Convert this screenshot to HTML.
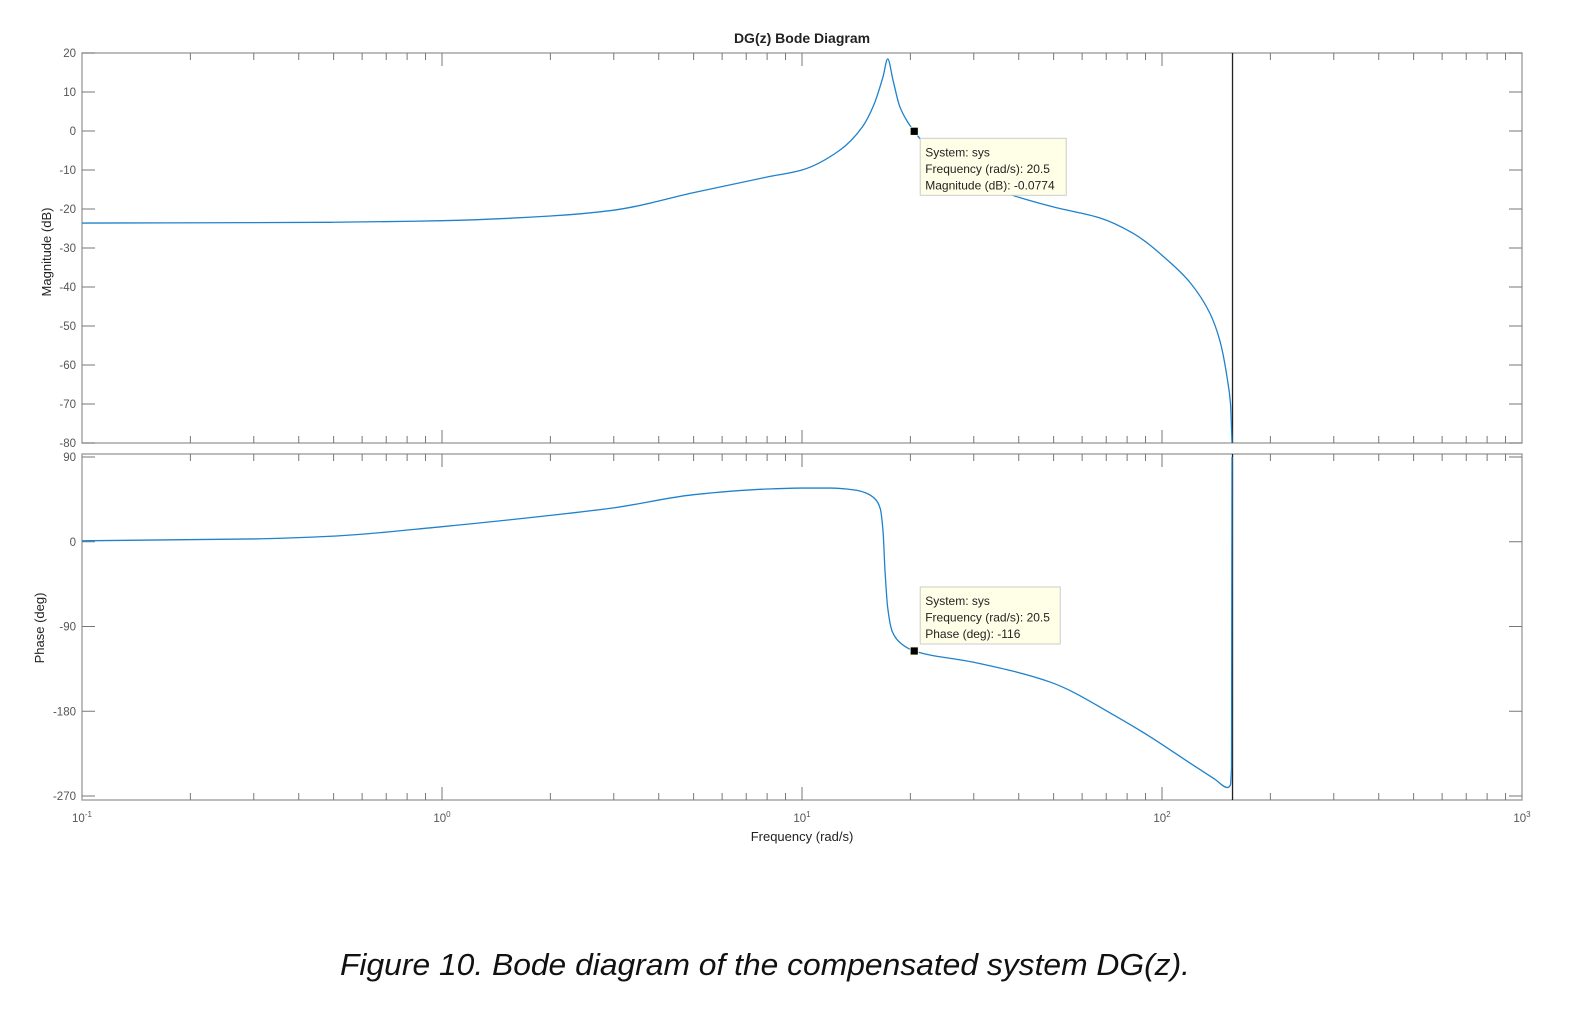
<!DOCTYPE html>
<html><head><meta charset="utf-8"><style>
html,body{margin:0;padding:0;background:#fff;}
svg{display:block;font-family:"Liberation Sans",Arial,sans-serif;}
</style></head><body>
<svg id="chart" width="1584" height="1010" viewBox="0 0 1584 1010" xmlns="http://www.w3.org/2000/svg">
<text x="802" y="43" text-anchor="middle" font-size="14" font-weight="bold" fill="#222">DG(z) Bode Diagram</text>
<text transform="translate(51,252) rotate(-90)" text-anchor="middle" font-size="13" fill="#222">Magnitude (dB)</text>
<text transform="translate(44,628) rotate(-90)" text-anchor="middle" font-size="13" fill="#222">Phase (deg)</text>
<text x="802" y="841" text-anchor="middle" font-size="13" fill="#222">Frequency  (rad/s)</text>
<text x="765" y="975" text-anchor="middle" font-size="31" font-style="italic" fill="#111" textLength="850" lengthAdjust="spacingAndGlyphs">Figure 10. Bode diagram of the compensated system DG(z).</text>
<g id="g"></g>
</svg>
<script>
// data
const magFreq = [0.1,0.3,0.5,1,2,3,5,8,10,12.7,14.7,15.8,16.8,17.3,17.9,18.7,19.6,20.5,25,30,40,50,67.3,83,105,120,135.8,145,152,155,156.5];
const magDb   = [-23.6,-23.5,-23.4,-23,-21.8,-20.3,-15.8,-11.8,-10,-5,1,6.5,14,18.5,13,6.2,2.5,-0.08,-9,-13,-17,-19.5,-22.3,-26.2,-33.6,-39,-46.7,-54,-63.8,-70,-80];
const phFreq  = [0.1,0.3,0.5,1,2,3,5,8,10,12,14,15,16,16.5,16.8,17,17.3,17.8,18.7,20.5,30,48.9,75,92.6,119.6,140,152,155,156];
const phDeg   = [1,3,6,16,28,36,50,56,57,57,55,52,45,35,10,-30,-70,-95,-107,-116,-128,-149,-186,-207,-235,-252,-261,-258,-240];
const magTicks = [20,10,0,-10,-20,-30,-40,-50,-60,-70,-80];
const phTicks = [90,0,-90,-180,-270];
const decades = [-1,0,1,2,3];
const nyquist = 157;
const tip1 = ["System: sys","Frequency (rad/s): 20.5","Magnitude (dB): -0.0774"];
const tip2 = ["System: sys","Frequency (rad/s): 20.5","Phase (deg): -116"];

const NS="http://www.w3.org/2000/svg";
const g=document.getElementById('g');
const X0=82,X1=1522;
const M={top:53,bot:443,min:-80,max:20};
const P={top:454,bot:800,t90:457,tm270:796};
function x(f){return X0+(Math.log10(f)+1)*(X1-X0)/4;}
function ym(d){return M.top+(M.max-d)*(M.bot-M.top)/(M.max-M.min);}
function yp(d){return P.t90+(90-d)*(P.tm270-P.t90)/360;}
function el(t,a,p){const e=document.createElementNS(NS,t);for(const k in a)e.setAttribute(k,a[k]);(p||g).appendChild(e);return e;}
// monotone cubic path through pixel points
function smoothPath(px,py){
  const n=px.length,dx=[],s=[],m=[];
  for(let i=0;i<n-1;i++){dx.push(px[i+1]-px[i]);s.push((py[i+1]-py[i])/dx[i]);}
  m[0]=s[0];m[n-1]=s[n-2];
  for(let i=1;i<n-1;i++){m[i]=(s[i-1]*s[i]<=0)?0:3*(dx[i-1]+dx[i])/((2*dx[i]+dx[i-1])/s[i-1]+(dx[i]+2*dx[i-1])/s[i]);}
  let d='M'+px[0].toFixed(2)+','+py[0].toFixed(2);
  for(let i=0;i<n-1;i++){const h=dx[i]/3;
    d+='C'+(px[i]+h).toFixed(2)+','+(py[i]+m[i]*h).toFixed(2)+' '+(px[i+1]-h).toFixed(2)+','+(py[i+1]-m[i+1]*h).toFixed(2)+' '+px[i+1].toFixed(2)+','+py[i+1].toFixed(2);}
  return d;
}

[[M.top,M.bot,'magnitude'],[P.top,P.bot,'phase']].forEach(([t,b,nm])=>{
  const r=el('rect',{x:X0,y:t,width:X1-X0,height:b-t,fill:'none',stroke:'#999','stroke-width':1.3});
  
  
  for(let d=-1;d<3;d++){for(let k=1;k<10;k++){
    const xx=x(k*Math.pow(10,d)); const L=k===1?13:7;
    if(d===-1&&k===1)continue;
    el('line',{x1:xx,y1:t,x2:xx,y2:t+L,stroke:'#777','stroke-width':1});
    el('line',{x1:xx,y1:b,x2:xx,y2:b-L,stroke:'#777','stroke-width':1});
  }}
});
magTicks.forEach(v=>{const yy=ym(v);
  el('line',{x1:X0,y1:yy,x2:X0+13,y2:yy,stroke:'#777'});
  el('line',{x1:X1,y1:yy,x2:X1-13,y2:yy,stroke:'#777'});
  const t=el('text',{x:X0-6,y:yy+4,'text-anchor':'end','font-size':11.5,fill:'#555'});t.textContent=v;
  
  
});
phTicks.forEach(v=>{const yy=yp(v);
  el('line',{x1:X0,y1:yy,x2:X0+13,y2:yy,stroke:'#777'});
  el('line',{x1:X1,y1:yy,x2:X1-13,y2:yy,stroke:'#777'});
  const t=el('text',{x:X0-6,y:yy+4,'text-anchor':'end','font-size':11.5,fill:'#555'});t.textContent=v;
  
  
});
decades.forEach(d=>{const t=el('text',{x:x(Math.pow(10,d)),y:822,'text-anchor':'middle','font-size':11.5,fill:'#555'});
  
  
  t.appendChild(document.createTextNode('10'));
  const s=el('tspan',{dy:-5,'font-size':8},t);s.textContent=d;});
// nyquist line
const nl=el('line',{x1:x(nyquist),y1:M.top,x2:x(nyquist),y2:M.bot,stroke:'#222','stroke-width':1.3});


const nl2=el('line',{x1:x(nyquist),y1:P.top,x2:x(nyquist),y2:P.bot,stroke:'#222','stroke-width':1.3});


// curves
const mc=el('path',{d:smoothPath(magFreq.map(x),magDb.map(ym)),fill:'none',stroke:'#1f82cc','stroke-width':1.3,'stroke-linejoin':'round'});


let pd=smoothPath(phFreq.map(x),phDeg.map(yp));
pd+='L'+x(156.5).toFixed(1)+','+yp(90).toFixed(1);
const pc=el('path',{d:pd,fill:'none',stroke:'#1f82cc','stroke-width':1.3,'stroke-linejoin':'round'});


// datatips
function tip(fx,my,by,lines,w,nm){
  const bx=x(fx)+6;
  const r=el('rect',{x:bx,y:by,width:w,height:57,fill:'#ffffe8',stroke:'#ccc'});
  
  
  lines.forEach((s,i)=>{const t=el('text',{x:bx+5,y:by+18+i*16.5,'font-size':12,fill:'#222'});t.textContent=s;
    
    });
  const m=el('rect',{x:x(fx)-4,y:my-4,width:8,height:8,fill:'#000',stroke:'#ffd','stroke-width':0.8});
  
  
}
tip(20.5,ym(-0.0774),ym(-0.0774)+7,tip1,146,'magnitude');
tip(20.5,yp(-116),yp(-116)-64,tip2,140,'phase');
</script>
</body></html>
